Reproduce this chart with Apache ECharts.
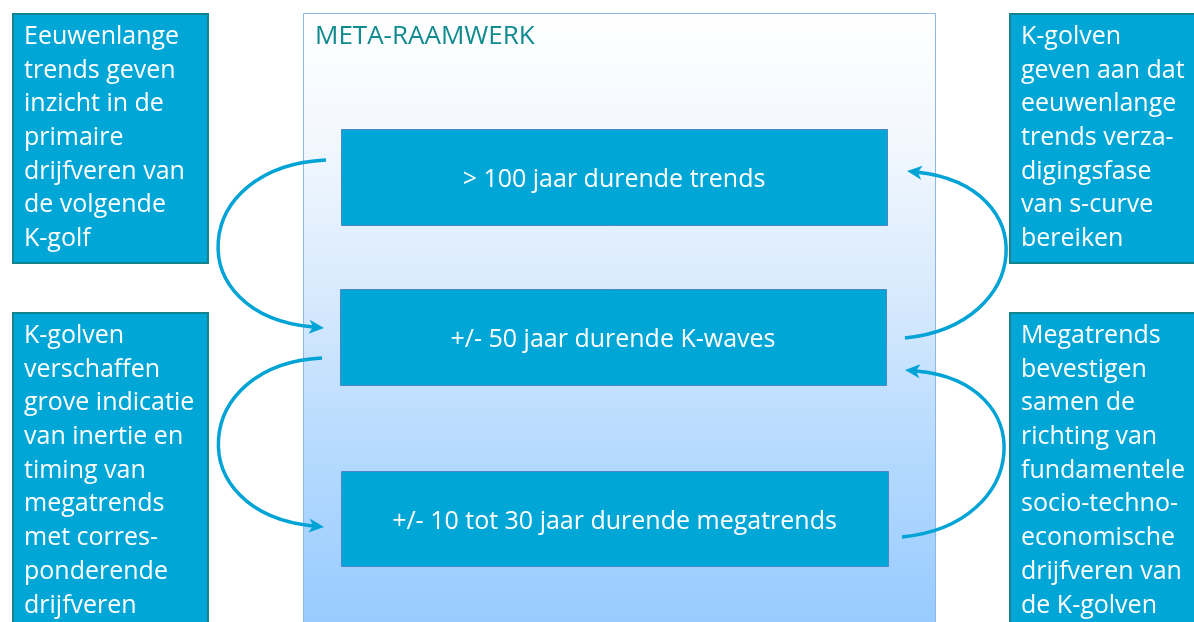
<!DOCTYPE html>
<html>
<head>
<meta charset="utf-8">
<script src="https://cdn.jsdelivr.net/npm/echarts@6/dist/echarts.min.js"></script>
<style>
html,body{margin:0;padding:0;background:#fff;}
#chart{width:1194px;height:622px;}
</style>
</head>
<body>
<div id="chart"></div>
<script>
// ---- content ----
const frameTitle = 'META-RAAMWERK';
const levelLabels = [
  '> 100 jaar durende trends',
  '+/- 50 jaar durende K-waves',
  '+/- 10 tot 30 jaar durende megatrends'
];
const leftNotes = [
  ['Eeuwenlange', 'trends geven', 'inzicht in de', 'primaire', 'drijfveren van', 'de volgende', 'K-golf'],
  ['K-golven', 'verschaffen', 'grove indicatie', 'van inertie en', 'timing van', 'megatrends', 'met corres-', 'ponderende', 'drijfveren']
];
const rightNotes = [
  ['K-golven', 'geven aan dat', 'eeuwenlange', 'trends verza-', 'digingsfase', 'van s-curve', 'bereiken'],
  ['Megatrends', 'bevestigen', 'samen de', 'richting van', 'fundamentele', 'socio-techno-', 'economische', 'drijfveren van', 'de K-golven']
];

// ---- styling / layout ----
const FILL = '#00A6D6';
const SIDE_BORDER = '#12848E';
const LEVEL_BORDER = '#4A86C8';
const ARROW = '#00A3D5';
const FONT = '"Open Sans", sans-serif';

const chart = echarts.init(document.getElementById('chart'), null, {renderer: 'canvas'});
const els = [];

// frame
els.push({
  type: 'rect', shape: {x: 303.5, y: 13.5, width: 632, height: 620},
  style: {
    fill: {type: 'linear', x: 0, y: 0, x2: 0, y2: 1, colorStops: [
      {offset: 0, color: '#FFFFFF'},
      {offset: 0.2, color: '#F3F8FE'},
      {offset: 0.45, color: '#D8EAFD'},
      {offset: 0.7, color: '#B6DAFE'},
      {offset: 1, color: '#96CAFF'}
    ]},
    stroke: '#8FB7E4', lineWidth: 1
  }, z: 1
});
els.push({
  type: 'text', style: {text: frameTitle, x: 315, y: 37, fill: '#0F8A8E',
    fontFamily: FONT, fontSize: 26, verticalAlign: 'middle', align: 'left'}, z: 5
});

// level boxes
const levelBoxes = [[341, 129, 546, 96], [340, 289, 546, 96], [341, 471, 547, 95]];
levelLabels.forEach((t, i) => {
  const b = levelBoxes[i];
  els.push({type: 'rect', shape: {x: b[0] + 0.5, y: b[1] + 0.5, width: b[2], height: b[3]},
    style: {fill: FILL, stroke: LEVEL_BORDER, lineWidth: 1}, z: 3});
  els.push({type: 'text', style: {text: t, x: b[0] + b[2] / 2, y: b[1] + b[3] / 2 + 3, fill: '#fff',
    fontFamily: FONT, fontSize: 25, align: 'center', verticalAlign: 'middle'}, z: 4});
});

// side boxes
const sideBoxes = [
  {notes: leftNotes[0], x: 12, y: 13, w: 197, h: 251},
  {notes: leftNotes[1], x: 12, y: 312, w: 197, h: 330},
  {notes: rightNotes[0], x: 1009, y: 13, w: 200, h: 251},
  {notes: rightNotes[1], x: 1009, y: 312, w: 200, h: 330}
];
sideBoxes.forEach(s => {
  els.push({type: 'rect', shape: {x: s.x + 1, y: s.y + 1, width: s.w - 2, height: s.h - 2},
    style: {fill: FILL, stroke: SIDE_BORDER, lineWidth: 2}, z: 3});
  els.push({type: 'text', style: {text: s.notes.join('\n'), x: s.x + 12, y: s.y + 7, fill: '#fff',
    fontFamily: FONT, fontSize: 25, lineHeight: 33.7, align: 'left', verticalAlign: 'top'}, z: 4});
});

// arrows: [start, cp1, cp2, tip]
const arrows = [
  [[326, 160], [190, 166], [190, 316], [324, 328]],
  [[322, 358], [191, 364], [191, 514], [324, 527]],
  [[905, 338], [1032, 325], [1032, 185], [907, 171]],
  [[902, 537], [1030, 525], [1030, 381], [905, 370]]
];
arrows.forEach(a => {
  const [p0, c1, c2, tip] = a;
  let dx = tip[0] - c2[0], dy = tip[1] - c2[1];
  const len = Math.hypot(dx, dy); const ux = dx / len, uy = dy / len;
  const nx = -uy, ny = ux;
  const L = 15, W = 7, N = 4;
  const base = [tip[0] - ux * (L - N), tip[1] - uy * (L - N)];
  const sx = base[0] - tip[0], sy = base[1] - tip[1];
  els.push({type: 'bezierCurve', shape: {x1: p0[0], y1: p0[1], cpx1: c1[0], cpy1: c1[1],
    cpx2: c2[0] + sx, cpy2: c2[1] + sy, x2: base[0], y2: base[1]},
    style: {stroke: ARROW, lineWidth: 3.5, fill: null, lineCap: 'butt'}, z: 6});
  els.push({type: 'polygon', shape: {points: [
    tip,
    [tip[0] - ux * L + nx * W, tip[1] - uy * L + ny * W],
    [tip[0] - ux * (L - N), tip[1] - uy * (L - N)],
    [tip[0] - ux * L - nx * W, tip[1] - uy * L - ny * W]
  ]}, style: {fill: ARROW}, z: 7});
});

chart.setOption({
  backgroundColor: '#ffffff',
  animation: false,
  graphic: {elements: els}
});
</script>
</body>
</html>
